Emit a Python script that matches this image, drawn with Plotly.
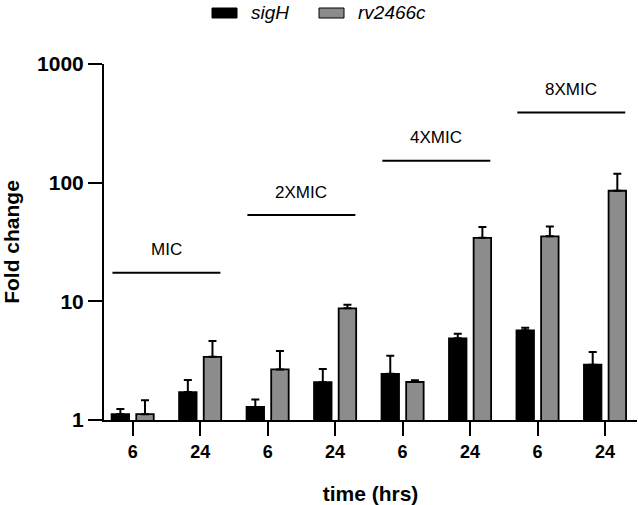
import numpy as np
import plotly.graph_objects as go

# ---- data ----
time_labels = ["6", "24", "6", "24", "6", "24", "6", "24"]
positions = [0, 1, 2, 3, 4, 5, 6, 7]
sigH_values = [1.12, 1.72, 1.29, 2.08, 2.45, 4.88, 5.70, 2.92]
sigH_errors = [0.12, 0.45, 0.20, 0.61, 1.03, 0.45, 0.29, 0.82]
rv_values = [1.12, 3.41, 2.67, 8.73, 2.09, 34.3, 35.3, 85.5]
rv_errors = [0.35, 1.22, 1.14, 0.63, 0.07, 8.0, 7.5, 33.4]
series_names = ["sigH", "rv2466c"]
series_colors = ["#000000", "#8c8c8c"]
group_labels = ["MIC", "2XMIC", "4XMIC", "8XMIC"]
group_centers = [0.5, 2.5, 4.5, 6.5]
group_levels = [17.4, 53.3, 153, 391]
y_tickvals = [1, 10, 100, 1000]
y_ticktext = ["1", "10", "100", "1000"]

FONT = "Liberation Sans, Arial, sans-serif"
W, H = 638, 505
ML, MR, MT, MB = 104, 1, 64, 85
PW, PH = W - ML - MR, H - MT - MB


def px2paper(px, py):
    return (px - ML) / PW, (H - MB - py) / PH


fig = go.Figure()

for name, vals, errs, color in zip(series_names, [sigH_values, rv_values],
                                   [sigH_errors, rv_errors], series_colors):
    fig.add_trace(go.Bar(
        x=positions, y=vals, name=name, showlegend=False,
        marker=dict(color=color, line=dict(color="#000000", width=1.8)),
        error_y=dict(type="data", array=errs, arrayminus=[0] * len(errs),
                     symmetric=False, color="#000000", thickness=2, width=4),
    ))

half = 0.8
for lab, c, lev in zip(group_labels, group_centers, group_levels):
    fig.add_trace(go.Scatter(
        x=[c - half, c + half], y=[lev, lev], mode="lines",
        line=dict(color="#000000", width=2), showlegend=False, hoverinfo="skip",
    ))
    fig.add_annotation(
        x=c, y=np.log10(lev), xref="x", yref="y", text=lab, showarrow=False,
        yanchor="middle", yshift=23,
        font=dict(family=FONT, size=17, color="#000000"),
    )

# legend (drawn as boxes + italic labels, as in the reference)
legend_box_left = [212, 319]
for name, color, bx in zip(series_names, series_colors, legend_box_left):
    x0, y0 = px2paper(bx, 18)
    x1, y1 = px2paper(bx + 25, 8)
    fig.add_shape(type="rect", xref="paper", yref="paper", x0=x0, y0=y0, x1=x1, y1=y1,
                  fillcolor=color, line=dict(color="#000000", width=1))
    tx, ty = px2paper(bx + 37, 13)
    fig.add_annotation(x=tx, y=ty, xref="paper", yref="paper", text=name,
                       showarrow=False, xanchor="left", yanchor="middle",
                       font=dict(family=FONT, size=19, style="italic", color="#000000"))

fig.update_layout(
    width=W, height=H,
    margin=dict(l=ML, r=MR, t=MT, b=MB),
    paper_bgcolor="white", plot_bgcolor="white",
    barmode="group", bargap=0.27, bargroupgap=0.29,
    font=dict(family=FONT, color="#000000"),
    showlegend=False,
)

fig.update_xaxes(
    range=[-0.425, 7.474], tickmode="array", tickvals=positions, ticktext=time_labels,
    showline=True, linecolor="#000000", linewidth=2,
    ticks="outside", ticklen=14, tickwidth=2, tickcolor="#000000",
    showgrid=False, zeroline=False,
    tickfont=dict(family=FONT, size=18, weight="bold", color="#000000"),
    title=dict(text="time (hrs)", standoff=27,
               font=dict(family=FONT, size=21, weight="bold", color="#000000")),
)
fig.update_yaxes(
    type="log", range=[0, 3], tickmode="array", tickvals=y_tickvals, ticktext=y_ticktext,
    showline=True, linecolor="#000000", linewidth=2,
    ticks="outside", ticklen=14, tickwidth=2, tickcolor="#000000",
    showgrid=False, zeroline=False,
    tickfont=dict(family=FONT, size=21, weight="bold", color="#000000"),
    title=dict(text="Fold change", standoff=12,
               font=dict(family=FONT, size=21, weight="bold", color="#000000")),
)

fig.write_html("out.html", config={"displayModeBar": False},
               post_script="document.body.style.margin='0px';document.body.style.overflow='hidden';")
